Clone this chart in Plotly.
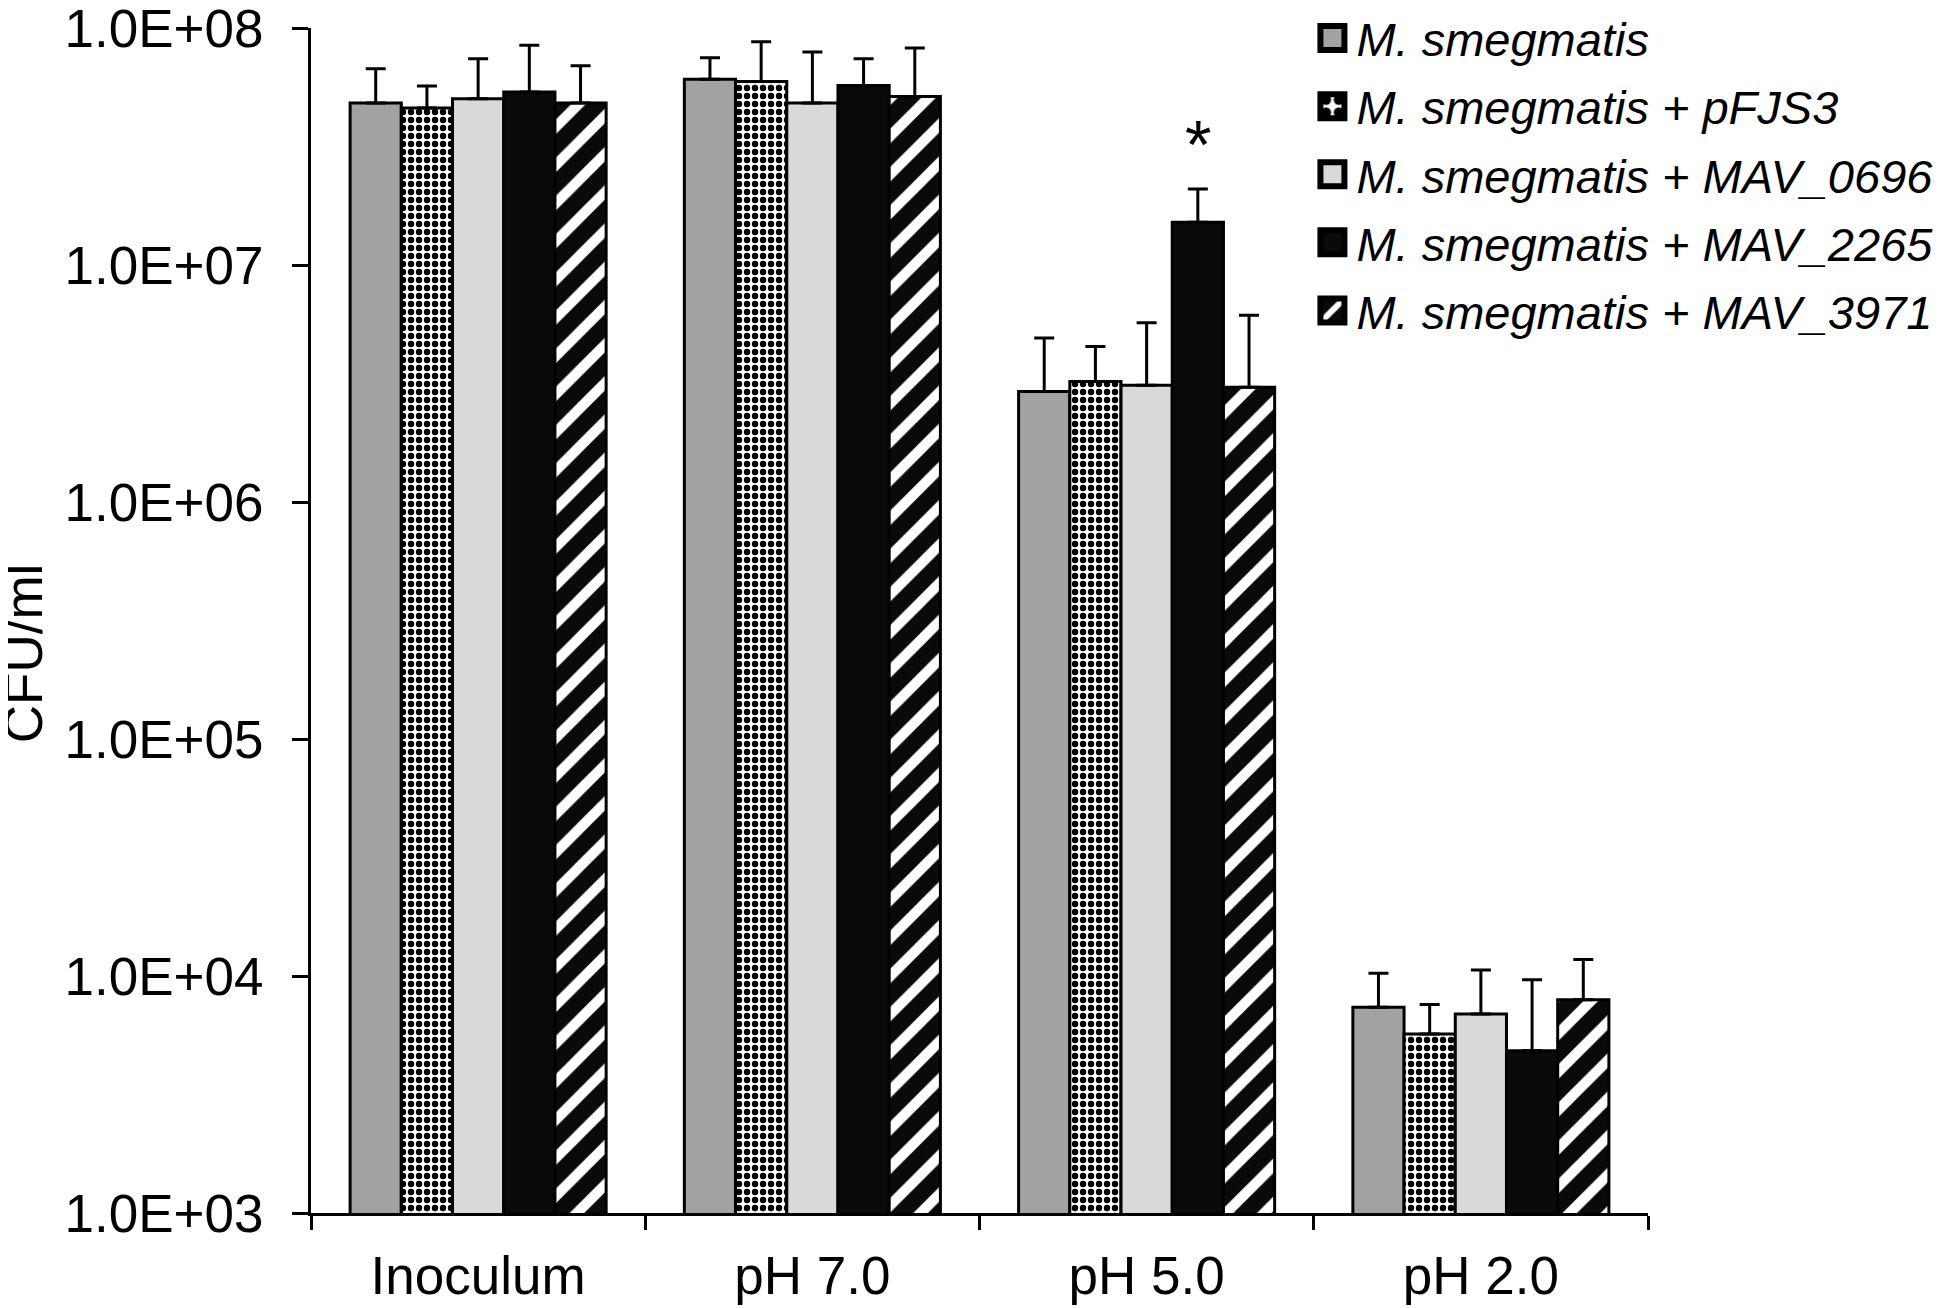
import plotly.graph_objects as go
import math

categories = ["Inoculum", "pH 7.0", "pH 5.0", "pH 2.0"]
series_names = [
    "M. smegmatis",
    "M. smegmatis + pFJS3",
    "M. smegmatis + MAV_0696",
    "M. smegmatis + MAV_2265",
    "M. smegmatis + MAV_3971",
]
smeg = [4.83e7, 6.09e7, 2.93e6, 7.38e3]
pfjs3 = [4.60e7, 5.96e7, 3.23e6, 5.69e3]
mav0696 = [5.03e7, 4.83e7, 3.11e6, 6.91e3]
mav2265 = [5.37e7, 5.73e7, 1.515e7, 4.84e3]
mav3971 = [4.83e7, 5.15e7, 3.05e6, 7.94e3]

smeg_err = [1.9e7, 1.4e7, 2.0e6, 2.9e3]
pfjs3_err = [1.1e7, 2.8e7, 1.3e6, 1.9e3]
mav0696_err = [2.4e7, 3.1e7, 2.6e6, 3.7e3]
mav2265_err = [3.1e7, 1.7e7, 5.8e6, 4.8e3]
mav3971_err = [2.1e7, 3.1e7, 3.1e6, 3.8e3]

tick_vals = [1e3, 1e4, 1e5, 1e6, 1e7, 1e8]
tick_text = ["1.0E+03", "1.0E+04", "1.0E+05", "1.0E+06", "1.0E+07", "1.0E+08"]

values = [smeg, pfjs3, mav0696, mav2265, mav3971]
errors = [smeg_err, pfjs3_err, mav0696_err, mav2265_err, mav3971_err]

styles = [
    dict(color="#a2a2a2"),
    dict(color="white", pattern=dict(shape=".", fgcolor="black", bgcolor="white", size=8,
                                     solidity=0.5, fgopacity=1)),
    dict(color="#d9d9d9"),
    dict(color="#0a0a0a"),
    dict(color="#0a0a0a", pattern=dict(shape="/", fgcolor="white", bgcolor="#0a0a0a", size=27,
                                       solidity=0.38, fgopacity=1)),
]

FONT = "Liberation Sans, Arial, sans-serif"
BARGAP = 0.234

fig = go.Figure()
for i, (name, vals, errs, st) in enumerate(zip(series_names, values, errors, styles)):
    marker = dict(color=st["color"], line=dict(color="black", width=3))
    if "pattern" in st:
        marker["pattern"] = st["pattern"]
    fig.add_trace(go.Bar(
        name=name,
        x=categories,
        y=vals,
        marker=marker,
        legendgroup=f"g{i}",
        error_y=dict(type="data", array=errs, arrayminus=[0] * len(errs), symmetric=False,
                     color="black", thickness=3, width=10),
    ))

# significance asterisk above the MAV_2265 bar at pH 5.0
sig_cat = 2
sig_series = 3
n_series = len(series_names)
bar_w = (1 - BARGAP) / n_series
x_sig = sig_cat + (sig_series - (n_series - 1) / 2) * bar_w
y_sig = math.log10(values[sig_series][sig_cat] + errors[sig_series][sig_cat])
fig.add_annotation(x=x_sig, y=y_sig, xref="x", yref="y", text="*", showarrow=False,
                   font=dict(family=FONT, size=68, color="black"), yshift=45)

fig.add_annotation(x=-0.215, y=0.472, xref="paper", yref="paper", text="CFU/ml",
                   textangle=-90, showarrow=False, xanchor="center", yanchor="middle",
                   font=dict(family=FONT, size=53, color="black"))

fig.update_layout(
    width=1950, height=1308,
    margin=dict(l=303, r=310, t=20, b=103),
    paper_bgcolor="white", plot_bgcolor="white",
    barmode="group", bargap=BARGAP, bargroupgap=0,
    font=dict(family=FONT, color="black"),
    showlegend=True,
    legend=dict(x=0.752, y=1.0, xanchor="left", yanchor="top",
                bgcolor="rgba(0,0,0,0)",
                font=dict(family=FONT, size=47, color="black", style="italic"),
                tracegroupgap=4, itemwidth=30),
    xaxis=dict(type="category", showline=True, linecolor="black", linewidth=3,
               ticks="outside", tickson="boundaries", ticklen=14, tickwidth=3, tickcolor="black",
               tickfont=dict(family=FONT, size=53, color="black"), showgrid=False,
               automargin=False, ticklabelstandoff=14),
    yaxis=dict(type="log", range=[3, 8.0005], showline=True, linecolor="black", linewidth=3,
               ticks="outside", ticklen=16, tickwidth=3, tickcolor="black",
               tickvals=tick_vals, ticktext=tick_text, showgrid=False, zeroline=False,
               tickfont=dict(family=FONT, size=53, color="black"), ticklabeloverflow="allow",
               automargin=False, ticklabelstandoff=18),
)

post = """
document.querySelectorAll('.legendpoints path').forEach(function(p){
  var t = p.getAttribute('transform') || '';
  p.setAttribute('transform', t + ' translate(-4,0) scale(2)');
});
var lg = document.querySelector('g.legend');
if (lg) {
  var m = /translate\\(\\s*([-\\d.]+)[ ,]+([-\\d.]+)\\s*\\)/.exec(lg.getAttribute('transform') || '');
  if (m) {
    lg.setAttribute('transform', 'translate(' + m[1] + ',' + (parseFloat(m[2]) - 27) + ')');
  }
}
"""
fig.write_html("out.html", post_script=post)
